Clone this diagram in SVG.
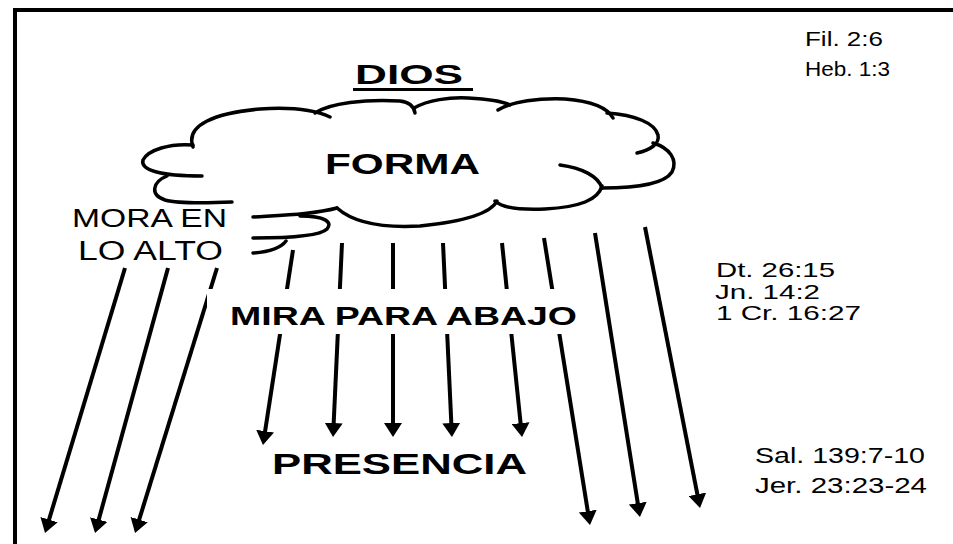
<svg xmlns="http://www.w3.org/2000/svg" width="953" height="544" viewBox="0 0 953 544">
<style>
.cl{fill:none;stroke:#000;stroke-width:3.5;stroke-linecap:round}
.ar{fill:none;stroke:#000;stroke-width:4;marker-end:url(#ah)}
.t{font-family:"Liberation Sans",Arial,sans-serif;fill:#000}
.b{font-weight:bold}
</style>
<defs>
<marker id="ah" markerUnits="userSpaceOnUse" markerWidth="14" markerHeight="18" refX="4" refY="9" orient="auto">
<path d="M0,0 L14,9 L0,18 z" fill="#000"/>
</marker>
</defs>
<rect width="953" height="544" fill="#fff"/>
<path d="M15,544 V10 H953" fill="none" stroke="#000" stroke-width="4"/>

<g id="cloud">
<path class="cl" d="M193,147 C185,125 215,113 260,109 C290,107 315,110 330,117"/>
<path class="cl" d="M315,113 C330,103 365,99 400,101 C408,102 414,106 415,113"/>
<path class="cl" d="M414,108 C428,100 450,97 468,98 C488,99 502,101 510,105"/>
<path class="cl" d="M498,110 C512,101 540,98 565,99 C590,101 607,107 613,118"/>
<path class="cl" d="M607,113 C635,115 655,123 658,135 C660,144 650,150 637,153"/>
<path class="cl" d="M653,143 C670,148 678,160 672,172 C665,183 640,188 602,188"/>
<path class="cl" d="M560,165 C582,168 598,176 602,188"/>
<path class="cl" d="M602,186 C598,200 580,207 545,209 C520,210 502,208 495,201"/>
<path class="cl" d="M497,201 C490,215 460,222 420,226 C385,228 355,224 337,208"/>
<path class="cl" d="M167,176 C152,182 150,195 165,200 C180,204 210,203 232,202"/>
<path class="cl" d="M193,145 C170,143 148,150 143,160 C140,170 160,176 202,176"/>
<path class="cl" d="M253,217 C285,215 315,214 337,208"/>
<path class="cl" d="M300,216 C325,216 333,222 327,229 C320,236 290,238 253,238"/>
<path class="cl" d="M253,253 C268,252 280,249 286,241"/>
<text class="t b" x="325" y="174" font-size="30" textLength="155" lengthAdjust="spacingAndGlyphs">FORMA</text>
</g>

<g id="connectors">
<line class="ar" x1="125" y1="268" x2="47.9" y2="523.4"/>
<line class="ar" x1="168" y1="268" x2="97.7" y2="523.4"/>
<line class="ar" x1="217" y1="268" x2="138" y2="523.4"/>
<line class="ar" x1="293" y1="250" x2="264.5" y2="435.1"/>
<line class="ar" x1="342" y1="243" x2="333.5" y2="427"/>
<line class="ar" x1="393" y1="243" x2="393" y2="427"/>
<line class="ar" x1="443" y1="243" x2="451.5" y2="427"/>
<line class="ar" x1="502" y1="243" x2="521" y2="427.1"/>
<line class="ar" x1="544" y1="238" x2="588.4" y2="515.1"/>
<line class="ar" x1="595" y1="233" x2="638.4" y2="507.1"/>
<line class="ar" x1="645" y1="227" x2="698.1" y2="498.2"/>
</g>

<g id="dios">
<text class="t b" x="355" y="84" font-size="28" textLength="108" lengthAdjust="spacingAndGlyphs">DIOS</text>
<line x1="353" y1="89.5" x2="473" y2="89.5" stroke="#000" stroke-width="3"/>
</g>

<g id="mora">
<text class="t" x="72" y="227" font-size="26.5" textLength="155" lengthAdjust="spacingAndGlyphs">MORA EN</text>
<text class="t" x="78" y="260" font-size="27" textLength="145" lengthAdjust="spacingAndGlyphs">LO ALTO</text>
</g>

<g id="mira">
<rect x="207" y="289" width="390" height="45" fill="#fff"/>
<text class="t b" x="230" y="325" font-size="25" textLength="347" lengthAdjust="spacingAndGlyphs">MIRA PARA ABAJO</text>
</g>

<g id="presencia">
<text class="t b" x="272" y="474" font-size="29.5" textLength="255" lengthAdjust="spacingAndGlyphs">PRESENCIA</text>
</g>

<g id="ref-forma">
<text class="t" x="805" y="46" font-size="21" textLength="78" lengthAdjust="spacingAndGlyphs">Fil. 2:6</text>
<text class="t" x="805" y="76" font-size="21" textLength="85" lengthAdjust="spacingAndGlyphs">Heb. 1:3</text>
</g>

<g id="ref-alto">
<text class="t" x="716" y="277" font-size="21" textLength="119" lengthAdjust="spacingAndGlyphs">Dt. 26:15</text>
<text class="t" x="715" y="299" font-size="20" textLength="105" lengthAdjust="spacingAndGlyphs">Jn. 14:2</text>
<text class="t" x="716" y="320" font-size="20" textLength="145" lengthAdjust="spacingAndGlyphs">1 Cr. 16:27</text>
</g>

<g id="ref-presencia">
<text class="t" x="755" y="463" font-size="22" textLength="170" lengthAdjust="spacingAndGlyphs">Sal. 139:7-10</text>
<text class="t" x="755" y="493" font-size="22" textLength="172" lengthAdjust="spacingAndGlyphs">Jer. 23:23-24</text>
</g>
</svg>
